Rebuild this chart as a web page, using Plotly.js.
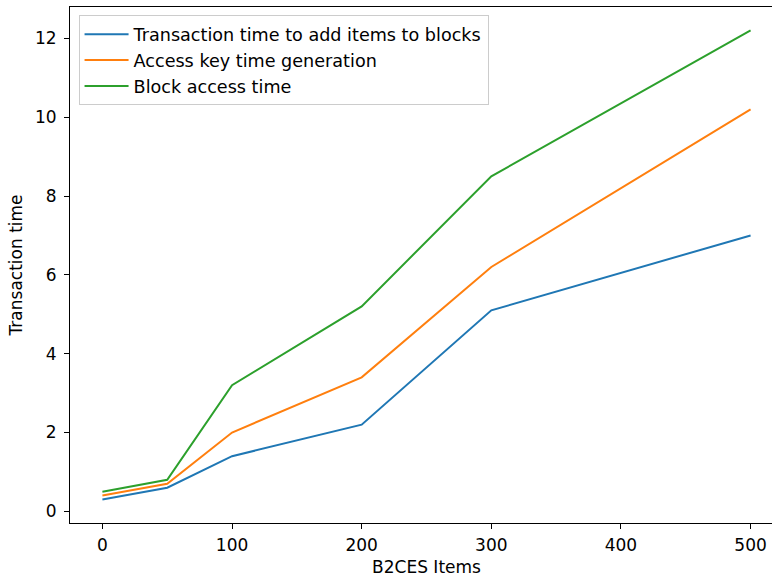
<!DOCTYPE html>
<html>
<head>
<meta charset="utf-8">
<script src="https://cdn.plot.ly/plotly-3.0.1.min.js"></script>
<style>
html,body{margin:0;padding:0;overflow:hidden;background:#fff;}
#chart{width:790px;height:578px;}
</style>
</head>
<body>
<div id="chart"></div>
<script>
const items = [0, 50, 100, 200, 300, 500];
const addItemsTime = [0.3, 0.6, 1.4, 2.2, 5.1, 7.0];
const accessKeyTime = [0.4, 0.7, 2.0, 3.4, 6.2, 10.2];
const blockAccessTime = [0.5, 0.8, 3.2, 5.2, 8.5, 12.2];
const seriesNames = ["Transaction time to add items to blocks", "Access key time generation", "Block access time"];
const colors = ["#1f77b4", "#ff7f0e", "#2ca02c"];

const ys = [addItemsTime, accessKeyTime, blockAccessTime];
const traces = ys.map((y, i) => ({
  x: items, y: y, type: "scatter", mode: "lines", name: seriesNames[i],
  line: {color: colors[i], width: 2}
}));

const font = {family: "DejaVu Sans, sans-serif", size: 17, color: "#000"};
const layout = {
  width: 790, height: 578,
  margin: {l: 70, r: 7, t: 7, b: 55},
  paper_bgcolor: "#fff", plot_bgcolor: "#fff",
  font: font,
  showlegend: true,
  legend: {x: 0.012, y: 0.984, xanchor: "left", yanchor: "top",
    bgcolor: "rgba(255,255,255,0.8)", bordercolor: "#cccccc", borderwidth: 1,
    font: {family: "DejaVu Sans, sans-serif", size: 17.6, color: "#000"},
    tracegroupgap: 0, itemwidth: 44},
  xaxis: {range: [-25, 525], tickvals: [0, 100, 200, 300, 400, 500],
    showgrid: false, zeroline: false, showline: true, mirror: true,
    linecolor: "#000", linewidth: 1, ticks: "outside", ticklen: 5, tickcolor: "#000",
    tickfont: font, ticklabelstandoff: 2,
    title: {text: "B2CES Items", font: font, standoff: 6}},
  yaxis: {range: [-0.295, 12.795], tickvals: [0, 2, 4, 6, 8, 10, 12],
    showgrid: false, zeroline: false, showline: true, mirror: true,
    linecolor: "#000", linewidth: 1, ticks: "outside", ticklen: 5, tickcolor: "#000",
    tickfont: font, ticklabelstandoff: 4,
    title: {text: "Transaction time", font: font, standoff: 8}}
};
Plotly.newPlot("chart", traces, layout, {displayModeBar: false, staticPlot: true});
</script>
</body>
</html>
